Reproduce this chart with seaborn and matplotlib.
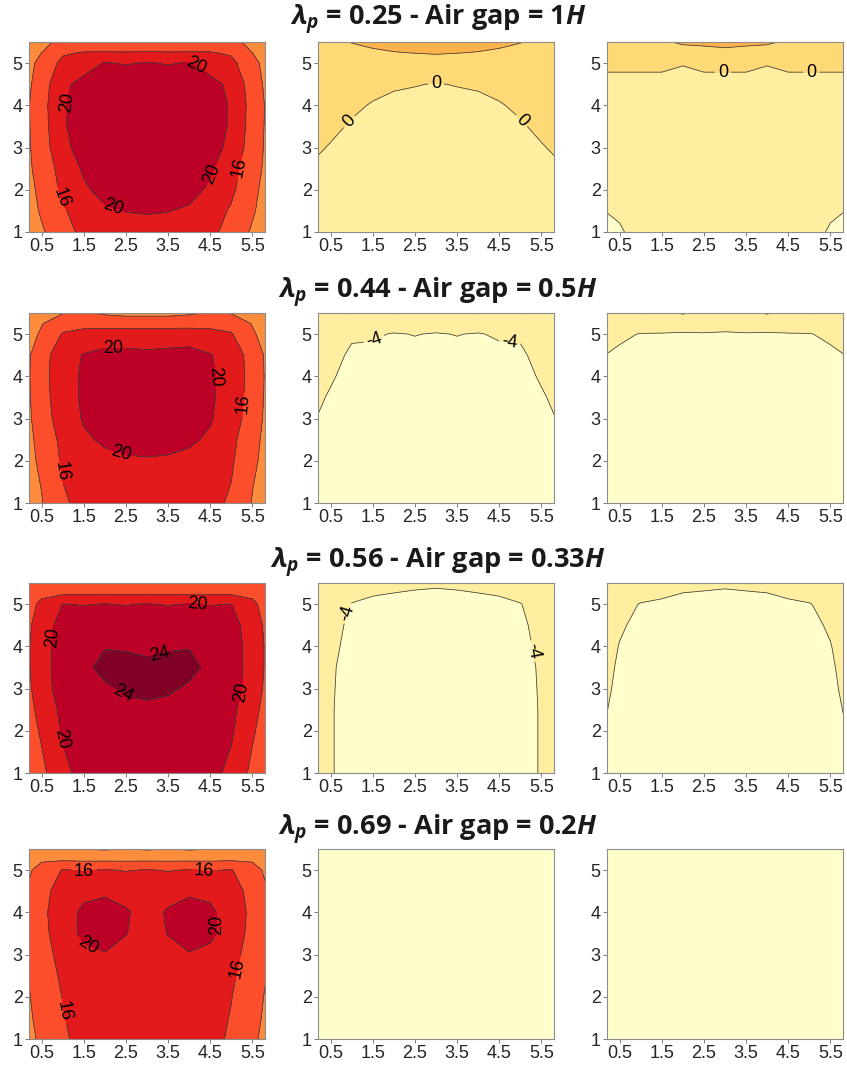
import numpy as np
import matplotlib
matplotlib.use("Agg")
import matplotlib.pyplot as plt
import seaborn as sns

sns.set_style("white")
plt.rcParams["font.family"] = ["Liberation Sans", "DejaVu Sans"]
plt.rcParams["mathtext.fontset"] = "custom"
plt.rcParams["mathtext.it"] = "Open Sans:italic:bold"
plt.rcParams["mathtext.rm"] = "Open Sans:bold"
plt.rcParams["mathtext.bf"] = "Open Sans:bold"
plt.rcParams["contour.negative_linestyle"] = "solid"

x_pos = [0.2, 0.5, 1.0, 1.5, 2.0, 2.5, 3.0, 3.5, 4.0, 4.5, 5.0, 5.5, 5.8]
y_pos = [1.0, 1.5, 2.0, 2.5, 3.0, 3.5, 4.0, 4.5, 5.0, 5.25, 5.5]

# contour bands (every 4) and their fills
levels = [-12, -4, 0, 4, 8, 12, 16, 20, 24, 28]
band_colors = sns.color_palette(["#ffffcc", "#ffeda0", "#fed976", "#feb24c", "#fd8d3c",
                                 "#fc4e2a", "#e31a1c", "#bd0026", "#800026"])

row_titles = [
    r"$\lambda_p$ = 0.25 - Air gap = 1$H$",
    r"$\lambda_p$ = 0.44 - Air gap = 0.5$H$",
    r"$\lambda_p$ = 0.56 - Air gap = 0.33$H$",
    r"$\lambda_p$ = 0.69 - Air gap = 0.2$H$",
]

# lambda_p = 0.25
lp025_a = [
    [10.0, 11.5, 14.5, 17.0, 18.5, 19.3, 19.5, 19.3, 18.5, 17.0, 14.5, 11.5, 10.0],
    [10.5, 12.5, 15.5, 18.0, 19.6, 20.05, 20.1, 20.05, 19.6, 18.0, 15.5, 12.5, 10.5],
    [11.0, 13.0, 16.8, 19.5, 21.0, 22.0, 22.0, 22.0, 21.0, 19.5, 16.8, 13.0, 11.0],
    [11.5, 13.5, 17.5, 20.5, 22.0, 22.5, 22.5, 22.5, 22.0, 20.5, 17.5, 13.5, 11.5],
    [11.7, 14.0, 19.0, 21.5, 22.5, 23.0, 23.0, 23.0, 22.5, 21.5, 19.0, 14.0, 11.7],
    [11.8, 14.3, 19.5, 22.0, 23.0, 23.0, 23.0, 23.0, 23.0, 22.0, 19.5, 14.3, 11.8],
    [11.9, 14.5, 19.6, 22.0, 23.0, 23.0, 23.0, 23.0, 23.0, 22.0, 19.6, 14.5, 11.9],
    [11.5, 14.0, 19.3, 21.0, 22.0, 22.0, 22.0, 22.0, 22.0, 21.0, 19.3, 14.0, 11.5],
    [11.0, 13.2, 17.0, 18.5, 20.2, 19.8, 20.2, 19.8, 20.2, 18.5, 17.0, 13.2, 11.0],
    [10.5, 12.0, 15.5, 16.2, 16.4, 16.2, 16.4, 16.2, 16.4, 16.2, 15.5, 12.0, 10.5],
    [10.0, 11.0, 13.0, 12.5, 11.8, 12.5, 12.8, 12.5, 11.8, 12.5, 13.0, 11.0, 10.0],
]
lp025_b = [
    [-2.0, -2.3, -2.6, -2.8, -2.9, -3.0, -3.0, -3.0, -2.9, -2.8, -2.6, -2.3, -2.0],
    [-1.6, -2.0, -2.3, -2.5, -2.6, -2.7, -2.8, -2.7, -2.6, -2.5, -2.3, -2.0, -1.6],
    [-1.2, -1.6, -2.0, -2.2, -2.3, -2.4, -2.5, -2.4, -2.3, -2.2, -2.0, -1.6, -1.2],
    [-0.5, -1.0, -1.6, -1.9, -2.0, -2.1, -2.2, -2.1, -2.0, -1.9, -1.6, -1.0, -0.5],
    [0.3, -0.2, -1.0, -1.4, -1.6, -1.7, -1.8, -1.7, -1.6, -1.4, -1.0, -0.2, 0.3],
    [1.0, 0.6, -0.3, -0.8, -1.1, -1.2, -1.3, -1.2, -1.1, -0.8, -0.3, 0.6, 1.0],
    [1.5, 1.2, 0.5, -0.2, -0.6, -0.7, -0.8, -0.7, -0.6, -0.2, 0.5, 1.2, 1.5],
    [2.0, 1.8, 1.4, 0.8, 0.3, 0.1, -0.1, 0.1, 0.3, 0.8, 1.4, 1.8, 2.0],
    [2.5, 2.4, 2.4, 2.4, 2.4, 2.5, 2.5, 2.5, 2.4, 2.4, 2.4, 2.4, 2.5],
    [2.8, 2.9, 3.2, 3.6, 3.9, 4.1, 4.3, 4.1, 3.9, 3.6, 3.2, 2.9, 2.8],
    [3.0, 3.3, 4.1, 4.6, 5.0, 5.3, 5.5, 5.3, 5.0, 4.6, 4.1, 3.3, 3.0],
]
lp025_c = [
    [-5.0, -4.3, -3.0, -2.6, -2.5, -2.4, -2.4, -2.4, -2.5, -2.6, -3.0, -4.3, -5.0],
    [-3.9, -3.6, -2.8, -2.5, -2.4, -2.3, -2.3, -2.3, -2.4, -2.5, -2.8, -3.6, -3.9],
    [-3.2, -3.0, -2.6, -2.4, -2.3, -2.2, -2.2, -2.2, -2.3, -2.4, -2.6, -3.0, -3.2],
    [-2.8, -2.7, -2.4, -2.2, -2.1, -2.0, -2.0, -2.0, -2.1, -2.2, -2.4, -2.7, -2.8],
    [-2.5, -2.4, -2.2, -2.0, -1.9, -1.8, -1.8, -1.8, -1.9, -2.0, -2.2, -2.4, -2.5],
    [-2.2, -2.1, -1.9, -1.8, -1.7, -1.6, -1.6, -1.6, -1.7, -1.8, -1.9, -2.1, -2.2],
    [-1.6, -1.6, -1.5, -1.4, -1.4, -1.3, -1.3, -1.3, -1.4, -1.4, -1.5, -1.6, -1.6],
    [-0.8, -0.8, -0.8, -0.8, -1.0, -0.8, -0.8, -0.8, -1.0, -0.8, -0.8, -0.8, -0.8],
    [0.6, 0.6, 0.6, 0.6, 0.15, 0.6, 0.6, 0.6, 0.15, 0.6, 0.6, 0.6, 0.6],
    [1.5, 1.6, 1.8, 2.0, 2.6, 2.7, 3.0, 2.7, 2.6, 2.0, 1.8, 1.6, 1.5],
    [2.5, 2.6, 3.0, 3.5, 4.5, 4.8, 5.2, 4.8, 4.5, 3.5, 3.0, 2.6, 2.5],
]

# lambda_p = 0.44
lp044_a = [
    [10.5, 11.8, 15.5, 17.0, 18.0, 18.5, 18.7, 18.5, 18.0, 17.0, 15.5, 11.8, 10.5],
    [10.8, 12.2, 16.0, 17.5, 18.5, 19.0, 19.2, 19.0, 18.5, 17.5, 16.0, 12.2, 10.8],
    [11.0, 12.8, 16.5, 18.2, 19.2, 19.7, 19.8, 19.7, 19.2, 18.2, 16.5, 12.8, 11.0],
    [11.2, 13.3, 17.0, 19.5, 20.5, 20.8, 20.9, 20.8, 20.5, 19.5, 17.0, 13.3, 11.2],
    [11.5, 14.0, 18.0, 20.3, 21.5, 22.0, 22.0, 22.0, 21.5, 20.3, 18.0, 14.0, 11.5],
    [11.7, 14.3, 18.5, 20.5, 22.0, 22.0, 22.0, 22.0, 22.0, 20.5, 18.5, 14.3, 11.7],
    [11.8, 14.5, 18.6, 20.5, 22.0, 22.0, 22.0, 22.0, 22.0, 20.5, 18.6, 14.5, 11.8],
    [11.7, 14.3, 18.5, 20.2, 21.0, 21.0, 20.8, 21.0, 21.2, 20.2, 18.5, 14.3, 11.7],
    [10.8, 12.5, 16.3, 17.5, 18.0, 18.0, 17.8, 18.0, 18.2, 17.5, 16.3, 12.5, 10.8],
    [10.3, 11.8, 14.5, 14.5, 14.3, 14.3, 14.3, 14.3, 14.3, 14.5, 14.5, 11.8, 10.3],
    [10.0, 11.0, 11.8, 12.3, 11.5, 11.0, 11.0, 11.0, 11.5, 12.3, 11.8, 11.0, 10.0],
]
lp044_b = [
    [-6.0, -6.0, -6.0, -6.0, -6.0, -6.0, -6.0, -6.0, -6.0, -6.0, -6.0, -6.0, -6.0],
    [-5.6, -5.8, -6.0, -6.0, -6.0, -6.0, -6.0, -6.0, -6.0, -6.0, -6.0, -5.8, -5.6],
    [-5.2, -5.5, -5.8, -5.9, -6.0, -6.0, -6.0, -6.0, -6.0, -5.9, -5.8, -5.5, -5.2],
    [-4.7, -5.2, -5.6, -5.8, -5.9, -5.9, -5.9, -5.9, -5.9, -5.8, -5.6, -5.2, -4.7],
    [-4.1, -4.8, -5.4, -5.6, -5.7, -5.7, -5.7, -5.7, -5.7, -5.6, -5.4, -4.8, -4.1],
    [-3.6, -4.3, -5.2, -5.4, -5.5, -5.5, -5.5, -5.5, -5.5, -5.4, -5.2, -4.3, -3.6],
    [-3.0, -3.7, -4.9, -5.2, -5.3, -5.3, -5.3, -5.3, -5.3, -5.2, -4.9, -3.7, -3.0],
    [-2.5, -3.0, -4.5, -4.8, -5.0, -4.9, -5.0, -4.9, -5.0, -4.8, -4.5, -3.0, -2.5],
    [-2.0, -2.4, -3.6, -3.6, -4.2, -3.9, -4.2, -3.9, -4.2, -3.6, -3.6, -2.4, -2.0],
    [-1.7, -2.0, -2.6, -2.6, -2.4, -2.5, -2.6, -2.5, -2.4, -2.6, -2.6, -2.0, -1.7],
    [-1.4, -1.5, 0.2, -1.2, 0.2, -1.2, -1.0, -1.2, 0.2, -1.2, 0.2, -1.5, -1.4],
]
lp044_c = [
    [-6.0, -6.0, -6.0, -6.0, -6.0, -6.0, -6.0, -6.0, -6.0, -6.0, -6.0, -6.0, -6.0],
    [-6.0, -6.0, -6.0, -6.0, -6.0, -6.0, -6.0, -6.0, -6.0, -6.0, -6.0, -6.0, -6.0],
    [-5.9, -6.0, -6.0, -6.0, -6.0, -6.0, -6.0, -6.0, -6.0, -6.0, -6.0, -6.0, -5.9],
    [-5.7, -5.9, -6.0, -6.0, -6.0, -6.0, -6.0, -6.0, -6.0, -6.0, -6.0, -5.9, -5.7],
    [-5.5, -5.8, -6.0, -6.0, -6.0, -6.0, -6.0, -6.0, -6.0, -6.0, -6.0, -5.8, -5.5],
    [-5.1, -5.5, -5.9, -6.0, -6.0, -6.0, -6.0, -6.0, -6.0, -6.0, -5.9, -5.5, -5.1],
    [-4.6, -5.0, -5.6, -5.8, -5.9, -5.9, -5.9, -5.9, -5.9, -5.8, -5.6, -5.0, -4.6],
    [-4.05, -4.4, -4.8, -5.0, -5.2, -5.2, -5.2, -5.2, -5.2, -5.0, -4.8, -4.4, -4.05],
    [-3.4, -3.6, -4.1, -4.15, -4.3, -4.2, -4.4, -4.2, -4.3, -4.15, -4.1, -3.6, -3.4],
    [-2.6, -2.7, -2.5, -2.6, -2.5, -2.6, -2.6, -2.6, -2.5, -2.6, -2.5, -2.7, -2.6],
    [-1.6, -1.4, 0.2, -0.8, 0.3, -0.8, -1.0, -0.8, 0.3, -0.8, 0.2, -1.4, -1.6],
]

# lambda_p = 0.56
lp056_a = [
    [13.5, 15.0, 19.2, 21.0, 21.8, 22.2, 22.4, 22.2, 21.8, 21.0, 19.2, 15.0, 13.5],
    [14.0, 15.8, 19.8, 21.5, 22.2, 22.6, 22.8, 22.6, 22.2, 21.5, 19.8, 15.8, 14.0],
    [14.5, 16.5, 20.5, 22.0, 22.8, 23.2, 23.3, 23.2, 22.8, 22.0, 20.5, 16.5, 14.5],
    [15.0, 17.2, 21.0, 22.5, 23.3, 23.4, 23.5, 23.4, 23.3, 22.5, 21.0, 17.2, 15.0],
    [15.5, 18.0, 22.0, 23.0, 23.7, 24.3, 24.6, 24.3, 23.7, 23.0, 22.0, 18.0, 15.5],
    [15.8, 18.3, 22.0, 23.5, 24.6, 24.6, 24.5, 24.6, 24.6, 23.5, 22.0, 18.3, 15.8],
    [15.8, 18.3, 22.0, 23.5, 23.9, 23.8, 23.5, 23.8, 23.9, 23.5, 22.0, 18.3, 15.8],
    [15.5, 18.0, 21.5, 22.5, 22.8, 22.8, 22.8, 22.8, 22.8, 22.5, 21.5, 18.0, 15.5],
    [14.5, 17.0, 20.05, 19.8, 20.1, 19.8, 20.1, 19.8, 20.1, 19.8, 20.05, 17.0, 14.5],
    [13.5, 15.0, 15.5, 15.5, 15.5, 15.5, 15.5, 15.5, 15.5, 15.5, 15.5, 15.0, 13.5],
    [12.5, 13.5, 14.0, 13.5, 13.0, 12.5, 11.8, 12.5, 13.0, 13.5, 14.0, 13.5, 12.5],
]
lp056_b = [
    [-3.0, -3.7, -5.5, -6.0, -6.0, -6.0, -6.0, -6.0, -6.0, -6.0, -5.5, -3.7, -3.0],
    [-3.0, -3.7, -5.5, -6.0, -6.0, -6.0, -6.0, -6.0, -6.0, -6.0, -5.5, -3.7, -3.0],
    [-3.0, -3.7, -5.5, -6.0, -6.0, -6.0, -6.0, -6.0, -6.0, -6.0, -5.5, -3.7, -3.0],
    [-3.0, -3.7, -5.5, -6.0, -6.0, -6.0, -6.0, -6.0, -6.0, -6.0, -5.5, -3.7, -3.0],
    [-3.0, -3.6, -5.5, -6.0, -6.0, -6.0, -6.0, -6.0, -6.0, -6.0, -5.5, -3.6, -3.0],
    [-3.0, -3.5, -5.4, -5.9, -6.0, -6.0, -6.0, -6.0, -6.0, -5.9, -5.4, -3.5, -3.0],
    [-2.9, -3.2, -5.0, -5.7, -5.9, -6.0, -6.0, -6.0, -5.9, -5.7, -5.0, -3.2, -2.9],
    [-2.8, -3.0, -4.6, -5.3, -5.6, -5.7, -5.8, -5.7, -5.6, -5.3, -4.6, -3.0, -2.8],
    [-2.6, -2.8, -4.1, -4.6, -5.0, -5.2, -5.3, -5.2, -5.0, -4.6, -4.1, -2.8, -2.6],
    [-2.4, -2.6, -3.2, -3.8, -4.05, -4.3, -4.5, -4.3, -4.05, -3.8, -3.2, -2.6, -2.4],
    [-2.0, -2.4, -2.8, -3.0, -3.2, -3.4, -3.5, -3.4, -3.2, -3.0, -2.8, -2.4, -2.0],
]
lp056_c = [
    [-5.0, -5.5, -6.0, -6.0, -6.0, -6.0, -6.0, -6.0, -6.0, -6.0, -6.0, -5.5, -5.0],
    [-4.8, -5.4, -6.0, -6.0, -6.0, -6.0, -6.0, -6.0, -6.0, -6.0, -6.0, -5.4, -4.8],
    [-4.3, -5.2, -5.9, -6.0, -6.0, -6.0, -6.0, -6.0, -6.0, -6.0, -5.9, -5.2, -4.3],
    [-3.95, -5.0, -5.8, -6.0, -6.0, -6.0, -6.0, -6.0, -6.0, -6.0, -5.8, -5.0, -3.95],
    [-3.6, -4.7, -5.6, -6.0, -6.0, -6.0, -6.0, -6.0, -6.0, -6.0, -5.6, -4.7, -3.6],
    [-3.4, -4.4, -5.3, -5.8, -6.0, -6.0, -6.0, -6.0, -6.0, -5.8, -5.3, -4.4, -3.4],
    [-3.2, -4.1, -5.0, -5.6, -5.9, -6.0, -6.0, -6.0, -5.9, -5.6, -5.0, -4.1, -3.2],
    [-3.0, -3.7, -4.6, -5.2, -5.5, -5.7, -5.8, -5.7, -5.5, -5.2, -4.6, -3.7, -3.0],
    [-2.8, -3.3, -4.1, -4.4, -4.7, -4.9, -5.0, -4.9, -4.7, -4.4, -4.1, -3.3, -2.8],
    [-2.6, -3.0, -3.3, -3.6, -4.05, -4.2, -4.4, -4.2, -4.05, -3.6, -3.3, -3.0, -2.6],
    [-2.3, -2.6, -2.9, -3.1, -3.3, -3.4, -3.5, -3.4, -3.3, -3.1, -2.9, -2.6, -2.3],
]

# lambda_p = 0.69
lp069_a = [
    [11.0, 12.8, 15.5, 17.0, 17.5, 17.6, 17.6, 17.6, 17.5, 17.0, 15.5, 12.8, 11.0],
    [11.5, 13.2, 15.8, 17.3, 17.8, 18.0, 18.0, 18.0, 17.8, 17.3, 15.8, 13.2, 11.5],
    [11.8, 13.6, 16.1, 17.6, 18.2, 18.4, 18.4, 18.4, 18.2, 17.6, 16.1, 13.6, 11.8],
    [12.2, 14.0, 16.6, 18.0, 18.8, 18.8, 18.6, 18.8, 18.8, 18.0, 16.6, 14.0, 12.2],
    [12.5, 14.5, 17.2, 18.8, 19.8, 19.0, 18.6, 19.0, 19.8, 18.8, 17.2, 14.5, 12.5],
    [12.7, 15.0, 17.8, 21.0, 21.5, 20.1, 18.8, 20.1, 21.5, 21.0, 17.8, 15.0, 12.7],
    [12.8, 15.2, 18.0, 20.8, 21.3, 20.3, 18.9, 20.3, 21.3, 20.8, 18.0, 15.2, 12.8],
    [12.5, 14.8, 17.6, 19.0, 19.5, 19.0, 18.6, 19.0, 19.5, 19.0, 17.6, 14.8, 12.5],
    [11.5, 13.5, 16.2, 15.8, 16.2, 15.8, 16.2, 15.8, 16.2, 15.8, 16.2, 13.5, 11.5],
    [10.5, 11.5, 11.5, 11.3, 11.3, 11.3, 11.3, 11.3, 11.3, 11.3, 11.5, 11.5, 10.5],
    [8.5, 8.5, 8.5, 8.0, 7.6, 8.2, 7.6, 8.2, 7.6, 8.0, 8.5, 8.5, 8.5],
]
# the two right panels are a single band (< -4) everywhere
lp069_b = [[-6.0] * len(x_pos) for _ in y_pos]
lp069_c = [[-6.0] * len(x_pos) for _ in y_pos]

panels = [
    [lp025_a, lp025_b, lp025_c],
    [lp044_a, lp044_b, lp044_c],
    [lp056_a, lp056_b, lp056_c],
    [lp069_a, lp069_b, lp069_c],
]

# contour labels: (levels, where to put them)
labels = {
    (0, 0): ([16, 20], [(4.1, 4.85), (1.0, 4.1), (4.5, 2.4), (2.2, 1.6), (0.95, 1.8), (5.3, 2.5)]),
    (0, 1): ([0], [(0.9, 3.65), (3.0, 4.5), (5.05, 3.65)]),
    (0, 2): ([0], [(2.95, 4.8), (5.05, 4.8)]),
    (1, 0): ([16, 20], [(2.2, 4.62), (4.75, 4.0), (2.4, 2.25), (0.95, 1.75), (5.3, 3.35)]),
    (1, 1): ([-4], [(1.55, 4.82), (4.75, 4.82)]),
    (2, 0): ([20, 24], [(4.2, 4.95), (0.85, 4.2), (0.9, 1.8), (5.3, 2.9), (3.3, 3.8), (2.5, 3.0)]),
    (2, 1): ([-4], [(0.85, 4.8), (5.35, 3.9)]),
    (3, 0): ([16, 20], [(1.5, 4.95), (4.35, 4.95), (0.95, 1.65), (5.3, 2.65), (1.7, 3.45), (4.35, 3.7)]),
}

W, H = 847, 1069
fig = plt.figure(figsize=(W / 100, H / 100), dpi=100)

col_left = [29, 318, 607]
row_top = [42, 313, 583, 849]
ax_w, ax_h = 236, 190
title_y = [20, 293, 563, 830]

Xg, Yg = np.meshgrid(x_pos, y_pos)
line_kw = dict(colors="#3c3c3c", linewidths=0.55)
tick_kw = dict(length=3, width=0.7, color="#7a7a7a")

for r in range(4):
    fig.text(0.517, 1 - title_y[r] / H, row_titles[r], ha="center", va="center",
             fontsize=19.5, fontweight="bold", family="Open Sans", color="#1a1a1a")
    for c in range(3):
        ax = fig.add_axes([col_left[c] / W, 1 - (row_top[r] + ax_h) / H, ax_w / W, ax_h / H])
        Z = np.array(panels[r][c])
        ax.contourf(Xg, Yg, Z, levels=levels, colors=band_colors)
        lv, spots = labels.get((r, c), ([], []))
        plain = [v for v in levels[1:-1] if v not in lv and Z.min() < v < Z.max()]
        if plain:
            ax.contour(Xg, Yg, Z, levels=plain, **line_kw)
        if lv:
            cs = ax.contour(Xg, Yg, Z, levels=lv, **line_kw)
            ax.clabel(cs, manual=spots, fmt="%d", fontsize=13,
                      inline=True, inline_spacing=3, colors="black")

        ax.set_xlim(0.2, 5.8)
        ax.set_ylim(1, 5.5)
        ax.set_xticks([0.5, 1.5, 2.5, 3.5, 4.5, 5.5])
        ax.set_xticklabels(["0.5", "1.5", "2.5", "3.5", "4.5", "5.5"])
        ax.set_yticks([1, 2, 3, 4, 5])
        ax.tick_params(axis="both", direction="out", bottom=True, left=True,
                       labelsize=13, labelcolor="#262626", pad=1.5, **tick_kw)
        for sp in ax.spines.values():
            sp.set_color("#8c8c8c")
            sp.set_linewidth(0.8)

        # small inward ticks on the top and right edges
        top = ax.secondary_xaxis("top")
        top.set_xticks(np.arange(0.5, 5.6, 0.5))
        top.tick_params(direction="in", top=True, labeltop=False, **tick_kw)
        top.spines["top"].set_visible(False)
        right = ax.secondary_yaxis("right")
        right.set_yticks(np.arange(1.5, 5.1, 0.5))
        right.tick_params(direction="in", right=True, labelright=False, **tick_kw)
        right.spines["right"].set_visible(False)

fig.savefig("out.png", dpi=100)
